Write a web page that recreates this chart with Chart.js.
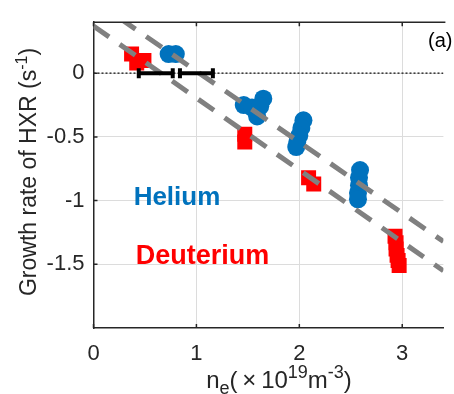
<!DOCTYPE html>
<html>
<head>
<meta charset="utf-8">
<script src="https://cdn.jsdelivr.net/npm/chart.js@4.4.1/dist/chart.umd.min.js"></script>
<style>
html, body { margin: 0; padding: 0; background: #fff; overflow: hidden; }
#wrap { width: 454px; height: 394px; }
</style>
</head>
<body>
<div id="wrap"><canvas id="c" width="454" height="394"></canvas></div>
<script>
// density n_e (1e19 m^-3) and HXR growth rate (s^-1)
const heliumNe   = [0.73, 0.80, 1.46, 1.54, 1.59, 1.65, 1.62, 2.04, 2.02, 2.00, 1.98, 1.97, 2.59, 2.58, 2.58, 2.57, 2.57];
const heliumRate = [0.15, 0.15, -0.25, -0.27, -0.34, -0.20, -0.26, -0.37, -0.43, -0.49, -0.54, -0.58, -0.76, -0.82, -0.88, -0.94, -0.99];
const deutNe     = [0.37, 0.42, 0.49, 1.47, 1.47, 2.09, 2.14, 2.93, 2.94, 2.94, 2.95, 2.96, 2.97];
const deutRate   = [0.15, 0.08, 0.10, -0.48, -0.54, -0.82, -0.87, -1.28, -1.33, -1.38, -1.43, -1.47, -1.51];

// dashed guide lines: rate = intercept + slope * n_e
const fitIntercept = [0.573, 0.37];
const fitSlope     = [-0.557, -0.565];

// horizontal error bars sitting on zero
const errCenter = [0.605, 1.0];
const errHalf   = [0.165, 0.16];

const xTicks = [0, 1, 2, 3];
const yTicks = [-1.5, -1, -0.5, 0];
const xMin = 0, xMax = 3.4, yMin = -2, yMax = 0.4;

const AXIS = '#262626';
const FONT = "'Liberation Sans', Arial, sans-serif";

const toPts = (xs, ys) => xs.map((x, i) => ({ x: x, y: ys[i] }));

const datasets = [];

// error bars (on top)
errCenter.forEach((c, i) => {
    datasets.push({
        data: [{ x: c - errHalf[i], y: 0 }, { x: c + errHalf[i], y: 0 }],
        showLine: true,
        borderColor: '#000',
        borderWidth: 4,
        pointStyle: 'line',
        rotation: 90,
        pointRadius: 5,
        pointBorderWidth: 4,
        pointBorderColor: '#000',
        order: 0
    });
});

// dashed fits
fitIntercept.forEach((b, i) => {
    datasets.push({
        data: [{ x: xMin, y: b + fitSlope[i] * xMin }, { x: xMax, y: b + fitSlope[i] * xMax }],
        showLine: true,
        borderColor: '#808080',
        borderWidth: 5,
        borderDash: [19, 13],
        pointRadius: 0,
        order: 1
    });
});

// zero line
datasets.push({
    data: [{ x: xMin, y: 0 }, { x: xMax, y: 0 }],
    showLine: true,
    borderColor: '#333',
    borderWidth: 1.5,
    borderDash: [2, 2],
    pointRadius: 0,
    order: 3
});

datasets.push({
    label: 'Helium',
    data: toPts(heliumNe, heliumRate),
    pointStyle: 'circle',
    pointRadius: 9,
    backgroundColor: '#0072BD',
    borderColor: '#0072BD',
    borderWidth: 0,
    order: 2
});

datasets.push({
    label: 'Deuterium',
    data: toPts(deutNe, deutRate),
    pointStyle: 'rect',
    pointRadius: 10.6,
    backgroundColor: '#FF0000',
    borderColor: '#FF0000',
    borderWidth: 0,
    order: 2
});

function drawRich(ctx, parts, cx, baseline) {
    let total = 0;
    parts.forEach(p => {
        ctx.font = p.size + 'px ' + FONT;
        p.w = ctx.measureText(p.t).width;
        total += p.w;
    });
    let x = cx - total / 2;
    ctx.textAlign = 'left';
    ctx.textBaseline = 'alphabetic';
    parts.forEach(p => {
        ctx.font = p.size + 'px ' + FONT;
        ctx.fillText(p.t, x, baseline + (p.dy || 0));
        x += p.w;
    });
}

const decor = {
    id: 'decor',
    afterDraw(chart) {
        const ctx = chart.ctx;
        const a = chart.chartArea;
        const xs = chart.scales.x, ys = chart.scales.y;
        ctx.save();

        // top frame line and inward ticks
        ctx.strokeStyle = AXIS;
        ctx.lineWidth = 1.5;
        ctx.beginPath();
        ctx.moveTo(a.left, a.top);
        ctx.lineTo(a.right + 2, a.top);
        xTicks.forEach(v => {
            const px = xs.getPixelForValue(v);
            ctx.moveTo(px, a.bottom); ctx.lineTo(px, a.bottom - 4);
            ctx.moveTo(px, a.top); ctx.lineTo(px, a.top + 4);
        });
        yTicks.forEach(v => {
            const py = ys.getPixelForValue(v);
            ctx.moveTo(a.left, py); ctx.lineTo(a.left + 4, py);
        });
        ctx.stroke();

        // panel tag
        ctx.fillStyle = '#000';
        ctx.font = '20px ' + FONT;
        ctx.textAlign = 'left';
        ctx.textBaseline = 'alphabetic';
        ctx.fillText('(a)', 428, 47);

        // species labels
        ctx.font = 'bold 26px ' + FONT;
        ctx.textBaseline = 'middle';
        ctx.fillStyle = '#0072BD';
        ctx.fillText('Helium', xs.getPixelForValue(0.39), ys.getPixelForValue(-0.98));
        ctx.font = 'bold 27px ' + FONT;
        ctx.fillStyle = '#FF0000';
        ctx.fillText('Deuterium', xs.getPixelForValue(0.41), ys.getPixelForValue(-1.44));

        // axis titles
        ctx.fillStyle = AXIS;
        drawRich(ctx, [
            { t: 'n', size: 24 },
            { t: 'e', size: 18, dy: 6 },
            { t: '(\u2009×\u200910', size: 24 },
            { t: '19', size: 18, dy: -10 },
            { t: 'm', size: 24 },
            { t: '-3', size: 18, dy: -10 },
            { t: ')', size: 24 }
        ], 279, 388);

        ctx.translate(36, 172);
        ctx.rotate(-Math.PI / 2);
        drawRich(ctx, [
            { t: 'Growth rate of HXR (s', size: 23 },
            { t: '-1', size: 16, dy: -9 },
            { t: ')', size: 23 }
        ], 0, 0);
        ctx.restore();
    }
};

new Chart(document.getElementById('c'), {
    type: 'scatter',
    data: { datasets: datasets },
    options: {
        responsive: false,
        animation: false,
        layout: { padding: { left: 0, right: 0, top: 14, bottom: 0 } },
        plugins: { legend: { display: false }, tooltip: { enabled: false } },
        scales: {
            x: {
                type: 'linear',
                min: xMin,
                max: xMax,
                afterBuildTicks: s => { s.ticks = xTicks.map(v => ({ value: v })); },
                afterFit: s => { s.height = 66; },
                grid: { color: '#dcdcdc', lineWidth: 1, drawTicks: false },
                border: { color: AXIS, width: 1.5 },
                ticks: { font: { family: FONT, size: 22 }, color: AXIS, padding: 13, maxRotation: 0, callback: v => String(v) }
            },
            y: {
                type: 'linear',
                min: yMin,
                max: yMax,
                afterBuildTicks: s => { s.ticks = yTicks.map(v => ({ value: v })); },
                afterFit: s => { s.width = 93.5; },
                grid: { color: '#dcdcdc', lineWidth: 1, drawTicks: false },
                border: { color: AXIS, width: 1.5 },
                ticks: { font: { family: FONT, size: 22 }, color: AXIS, padding: 9, callback: v => String(v) }
            }
        }
    },
    plugins: [decor]
});
</script>
</body>
</html>
